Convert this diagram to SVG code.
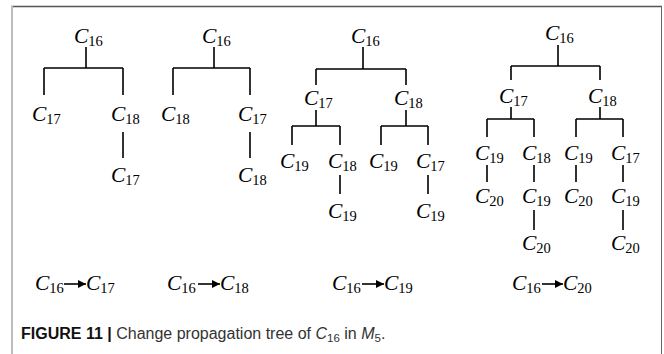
<svg xmlns="http://www.w3.org/2000/svg" width="664" height="354" viewBox="0 0 664 354">
<style>
.n{font-family:"Liberation Serif","Times New Roman",serif;font-style:italic;font-size:21.5px;fill:#000}
.s{font-style:normal;font-size:14.5px}
.e{fill:none;stroke:#000;stroke-width:1.6}
.cap{font-family:"Liberation Sans",Arial,sans-serif;font-size:16px;fill:#333}
.b{font-weight:bold;fill:#111}
.i{font-style:italic}
.cs{font-size:11.5px}
</style>
<defs>
<marker id="ah" viewBox="0 0 10 10" refX="10" refY="5" markerWidth="5" markerHeight="5" orient="auto" markerUnits="strokeWidth">
<path d="M0 0L10 5L0 10Z" fill="#000"/>
</marker>
</defs>
<rect width="664" height="354" fill="#fff"/>
<g id="frame">
<line x1="11" y1="6.5" x2="662" y2="6.5" stroke="#555" stroke-width="1.5"/>
<line x1="12" y1="6" x2="12" y2="354" stroke="#bbb" stroke-width="2"/>
<line x1="661.5" y1="6" x2="661.5" y2="354" stroke="#666" stroke-width="1"/>
</g>
<g id="connectors">
<path class="e" d="M86 47V68M44 68H123M44 68V95M123 68V95M123 132V158"/>
<path class="e" d="M214 47V68M173 68H250M173 68V95M250 68V95M250 132V158"/>
<path class="e" d="M363 47V69M316 69H406M316 69V85M406 69V85M316 110V126M292 126H340M292 126V145M340 126V145M406 110V126M381 126H428M381 126V145M428 126V145M340 175V194M428 175V194"/>
<path class="e" d="M558 45V66M511 66H600M511 66V80M600 66V80M511 107V119M487 119H534M487 119V137M534 119V137M600 107V119M576 119H623M576 119V137M623 119V137M487 165V182M534 165V182M576 165V182M623 165V182M534 210V230M623 210V230"/>
<g stroke="#000" stroke-width="1.6" marker-end="url(#ah)">
<line x1="64" y1="284" x2="86" y2="284"/>
<line x1="198" y1="284" x2="220" y2="284"/>
<line x1="362" y1="284" x2="384" y2="284"/>
<line x1="542" y1="284" x2="563" y2="284"/>
</g>
</g>
<g id="tree1">
<g id="t1-c16"><text class="n" x="74" y="43">C<tspan class="s" dy="3">16</tspan></text></g>
<g id="t1-c17a"><text class="n" x="32" y="121">C<tspan class="s" dy="3">17</tspan></text></g>
<g id="t1-c18"><text class="n" x="111" y="121">C<tspan class="s" dy="3">18</tspan></text></g>
<g id="t1-c17b"><text class="n" x="111" y="182">C<tspan class="s" dy="3">17</tspan></text></g>
</g>
<g id="tree2">
<g id="t2-c16"><text class="n" x="202" y="43">C<tspan class="s" dy="3">16</tspan></text></g>
<g id="t2-c18a"><text class="n" x="161" y="121">C<tspan class="s" dy="3">18</tspan></text></g>
<g id="t2-c17"><text class="n" x="238" y="121">C<tspan class="s" dy="3">17</tspan></text></g>
<g id="t2-c18b"><text class="n" x="238" y="182">C<tspan class="s" dy="3">18</tspan></text></g>
</g>
<g id="tree3">
<g id="t3-c16"><text class="n" x="351" y="43">C<tspan class="s" dy="3">16</tspan></text></g>
<g id="t3-c17"><text class="n" x="304" y="105">C<tspan class="s" dy="3">17</tspan></text></g>
<g id="t3-c18"><text class="n" x="394" y="105">C<tspan class="s" dy="3">18</tspan></text></g>
<g id="t3-c19a"><text class="n" x="280" y="168">C<tspan class="s" dy="3">19</tspan></text></g>
<g id="t3-c18b"><text class="n" x="328" y="168">C<tspan class="s" dy="3">18</tspan></text></g>
<g id="t3-c19b"><text class="n" x="369" y="168">C<tspan class="s" dy="3">19</tspan></text></g>
<g id="t3-c17b"><text class="n" x="416" y="168">C<tspan class="s" dy="3">17</tspan></text></g>
<g id="t3-c19c"><text class="n" x="328" y="218">C<tspan class="s" dy="3">19</tspan></text></g>
<g id="t3-c19d"><text class="n" x="416" y="218">C<tspan class="s" dy="3">19</tspan></text></g>
</g>
<g id="tree4">
<g id="t4-c16"><text class="n" x="545" y="40">C<tspan class="s" dy="3">16</tspan></text></g>
<g id="t4-c17"><text class="n" x="499" y="103">C<tspan class="s" dy="3">17</tspan></text></g>
<g id="t4-c18"><text class="n" x="588" y="103">C<tspan class="s" dy="3">18</tspan></text></g>
<g id="t4-c19a"><text class="n" x="475" y="160">C<tspan class="s" dy="3">19</tspan></text></g>
<g id="t4-c18b"><text class="n" x="522" y="160">C<tspan class="s" dy="3">18</tspan></text></g>
<g id="t4-c19b"><text class="n" x="564" y="160">C<tspan class="s" dy="3">19</tspan></text></g>
<g id="t4-c17b"><text class="n" x="611" y="160">C<tspan class="s" dy="3">17</tspan></text></g>
<g id="t4-c20a"><text class="n" x="475" y="203">C<tspan class="s" dy="3">20</tspan></text></g>
<g id="t4-c19c"><text class="n" x="522" y="203">C<tspan class="s" dy="3">19</tspan></text></g>
<g id="t4-c20b"><text class="n" x="564" y="203">C<tspan class="s" dy="3">20</tspan></text></g>
<g id="t4-c19d"><text class="n" x="611" y="203">C<tspan class="s" dy="3">19</tspan></text></g>
<g id="t4-c20c"><text class="n" x="522" y="250">C<tspan class="s" dy="3">20</tspan></text></g>
<g id="t4-c20d"><text class="n" x="611" y="250">C<tspan class="s" dy="3">20</tspan></text></g>
</g>
<g id="labels">
<text class="n" x="35" y="290">C<tspan class="s" dy="3">16</tspan></text>
<text class="n" x="86" y="290">C<tspan class="s" dy="3">17</tspan></text>
<text class="n" x="167" y="290">C<tspan class="s" dy="3">16</tspan></text>
<text class="n" x="220" y="290">C<tspan class="s" dy="3">18</tspan></text>
<text class="n" x="332" y="290">C<tspan class="s" dy="3">16</tspan></text>
<text class="n" x="384" y="290">C<tspan class="s" dy="3">19</tspan></text>
<text class="n" x="512" y="290">C<tspan class="s" dy="3">16</tspan></text>
<text class="n" x="563" y="290">C<tspan class="s" dy="3">20</tspan></text>
</g>
<g id="caption">
<text class="cap" x="21" y="339"><tspan class="b">FIGURE 11 | </tspan>Change propagation tree of <tspan class="i">C</tspan><tspan class="cs" dy="3">16</tspan><tspan dy="-3"> in </tspan><tspan class="i">M</tspan><tspan class="cs" dy="3">5</tspan><tspan dy="-3">.</tspan></text>
</g>
</svg>
